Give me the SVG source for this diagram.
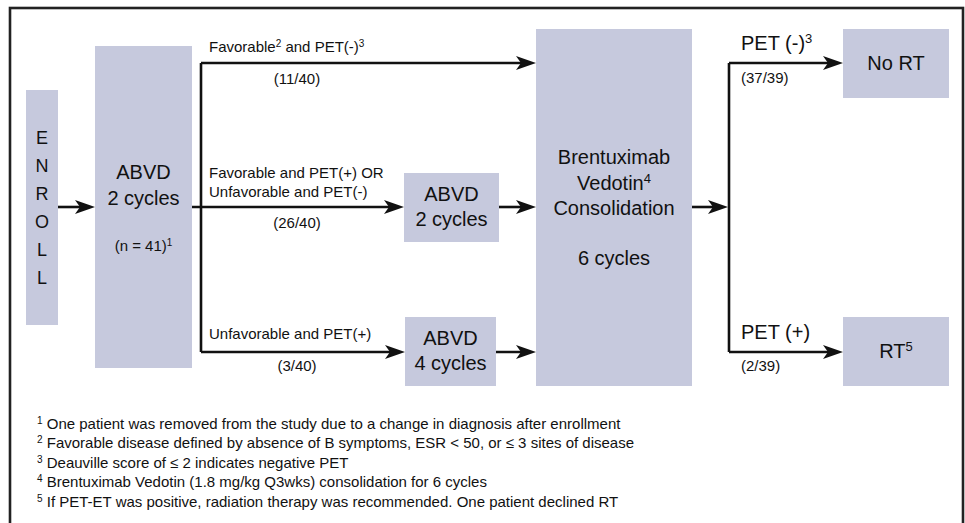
<svg xmlns="http://www.w3.org/2000/svg" width="965" height="523" viewBox="0 0 965 523">
<style>
.box{fill:#c6c9dd}
text{font-family:"Liberation Sans",Arial,sans-serif;fill:#111}
.big{font-size:20px}
.let{font-size:18px;text-anchor:middle}
.c{text-anchor:middle}
.lbl{font-size:15px}
.fn{font-size:15px}
.sup{font-size:10px;baseline-shift:super}
.supb{font-size:13px;baseline-shift:super}
.ln{fill:none;stroke:#111;stroke-width:2.6}
</style>
<defs>
<marker id="ah" viewBox="0 0 20 14" refX="14" refY="7" markerWidth="20" markerHeight="14" markerUnits="userSpaceOnUse" orient="auto">
<path d="M0,0 L20,7 L0,14 L5,7 z" fill="#111"/>
</marker>
</defs>
<rect x="10" y="8" width="953" height="530" fill="#fff" stroke="#222" stroke-width="2.6"/>

<g id="connectors">
<path class="ln" d="M58,207 H89" marker-end="url(#ah)"/>
<path class="ln" d="M201,63 V352"/>
<path class="ln" d="M201,63 H530" marker-end="url(#ah)"/>
<path class="ln" d="M192,207 H398" marker-end="url(#ah)"/>
<path class="ln" d="M201,352 H399" marker-end="url(#ah)"/>
<path class="ln" d="M499,207 H530" marker-end="url(#ah)"/>
<path class="ln" d="M496,352 H530" marker-end="url(#ah)"/>
<path class="ln" d="M692,207 H722" marker-end="url(#ah)"/>
<path class="ln" d="M729,63 V352"/>
<path class="ln" d="M729,63 H837" marker-end="url(#ah)"/>
<path class="ln" d="M729,352 H837" marker-end="url(#ah)"/>
</g>

<g id="labels">
<text class="lbl" x="209" y="52">Favorable<tspan class="sup">2</tspan> and PET(-)<tspan class="sup">3</tspan></text>
<text class="lbl c" x="297" y="84">(11/40)</text>
<text class="lbl" x="209" y="178">Favorable and PET(+) OR</text>
<text class="lbl" x="209" y="197">Unfavorable and PET(-)</text>
<text class="lbl c" x="297" y="228">(26/40)</text>
<text class="lbl" x="209" y="339">Unfavorable and PET(+)</text>
<text class="lbl c" x="297" y="371">(3/40)</text>
<text class="big" x="741" y="50">PET (-)<tspan class="supb">3</tspan></text>
<text class="lbl" x="741" y="83">(37/39)</text>
<text class="big" x="741" y="339">PET (+)</text>
<text class="lbl" x="741" y="371">(2/39)</text>
</g>

<g id="enroll">
<rect class="box" x="26" y="90" width="32" height="235"/>
<text class="let" x="42" y="144">E</text>
<text class="let" x="42" y="172">N</text>
<text class="let" x="42" y="200">R</text>
<text class="let" x="42" y="228">O</text>
<text class="let" x="42" y="256">L</text>
<text class="let" x="42" y="284">L</text>
</g>

<g id="abvd1">
<rect class="box" x="95" y="46" width="97" height="322"/>
<text class="big c" x="143.5" y="179">ABVD</text>
<text class="big c" x="143.5" y="205">2 cycles</text>
<text class="lbl c" x="143.5" y="251">(n = 41)<tspan class="sup">1</tspan></text>
</g>

<g id="abvd2">
<rect class="box" x="404" y="173" width="95" height="69"/>
<text class="big c" x="451.5" y="201">ABVD</text>
<text class="big c" x="451.5" y="226">2 cycles</text>
</g>

<g id="abvd4">
<rect class="box" x="405" y="317" width="91" height="69"/>
<text class="big c" x="450.5" y="345">ABVD</text>
<text class="big c" x="450.5" y="370">4 cycles</text>
</g>

<g id="bv">
<rect class="box" x="536" y="29" width="156" height="357"/>
<text class="big c" x="614" y="164">Brentuximab</text>
<text class="big c" x="614" y="190">Vedotin<tspan class="supb">4</tspan></text>
<text class="big c" x="614" y="215">Consolidation</text>
<text class="big c" x="614" y="265">6 cycles</text>
</g>

<g id="nort">
<rect class="box" x="843" y="29" width="106" height="69"/>
<text class="big c" x="896" y="70">No RT</text>
</g>

<g id="rt">
<rect class="box" x="843" y="317" width="106" height="69"/>
<text class="big c" x="896" y="358">RT<tspan class="supb">5</tspan></text>
</g>

<g id="footnotes">
<text class="fn" x="37" y="429"><tspan class="sup">1</tspan> One patient was removed from the study due to a change in diagnosis after enrollment</text>
<text class="fn" x="37" y="448"><tspan class="sup">2</tspan>  Favorable disease defined by absence of B symptoms, ESR &lt; 50, or ≤ 3 sites of disease</text>
<text class="fn" x="37" y="468"><tspan class="sup">3</tspan> Deauville score of ≤ 2 indicates negative PET</text>
<text class="fn" x="37" y="487"><tspan class="sup">4</tspan> Brentuximab Vedotin (1.8 mg/kg Q3wks) consolidation for 6 cycles</text>
<text class="fn" x="37" y="507"><tspan class="sup">5</tspan> If PET-ET was positive, radiation therapy was recommended. One patient declined RT</text>
</g>
</svg>
